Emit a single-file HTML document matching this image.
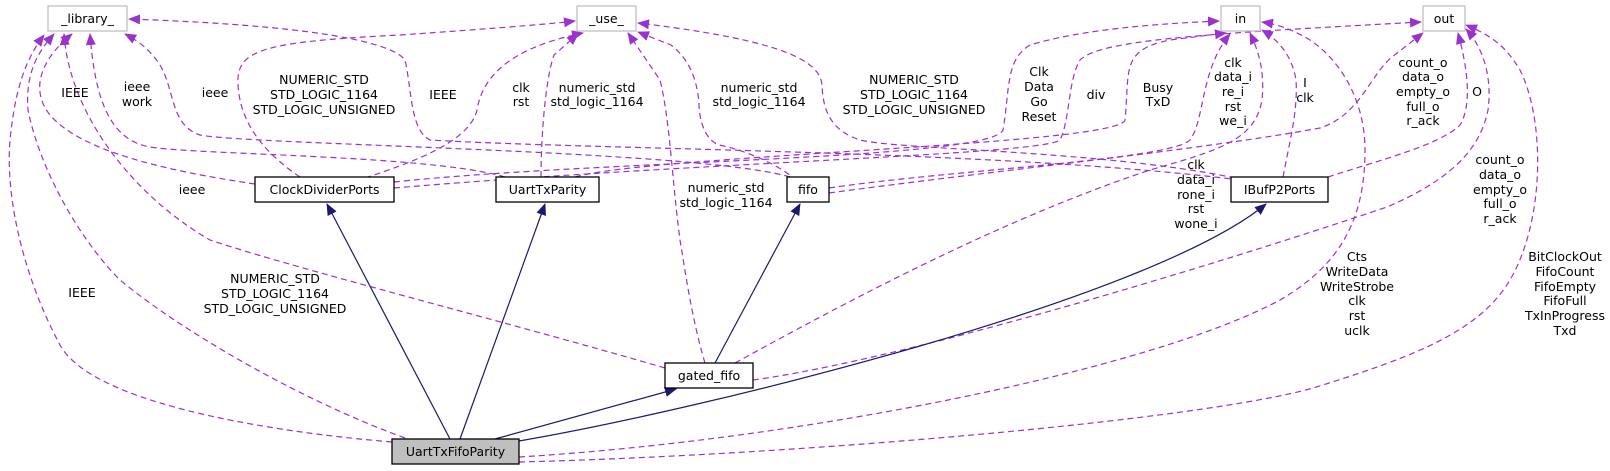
<!DOCTYPE html>
<html><head><meta charset="utf-8"><style>
html,body{margin:0;padding:0;background:#fff;}
svg{display:block;}
text{font-family:"DejaVu Sans","Liberation Sans",sans-serif;font-size:12.5px;fill:#000;text-anchor:middle;}
.p{fill:none;stroke:#9a32cd;stroke-width:1.2;stroke-dasharray:6,4;}
.n{fill:none;stroke:#191970;stroke-width:1.2;}
.g{fill:#fff;stroke:#bfbfbf;stroke-width:1.3;}
.b{fill:#fff;stroke:#000;stroke-width:1.3;}
</style></head><body>
<svg width="1610" height="471" viewBox="0 0 1610 471" xmlns="http://www.w3.org/2000/svg">
<defs>
<marker id="mp" markerWidth="12" markerHeight="10" refX="11" refY="5" orient="auto" markerUnits="userSpaceOnUse"><path d="M0,0 L12,5 L0,10 z" fill="#9a32cd"/></marker>
<marker id="mn" markerWidth="12" markerHeight="10" refX="11" refY="5" orient="auto" markerUnits="userSpaceOnUse"><path d="M0,0 L12,5 L0,10 z" fill="#191970"/></marker>
</defs>

<!-- purple dashed edges -->
<g marker-end="url(#mp)">
<path class="p" d="M392,442 C250,430 90,400 60,345 C25,280 5,200 10,140 C15,90 25,60 44,35"/>
<path class="p" d="M405,438 C300,400 180,330 120,280 C80,240 40,170 28,110 C25,70 40,50 54,34"/>
<path class="p" d="M665,368 C500,320 300,270 210,240 C140,200 70,120 64,34"/>
<path class="p" d="M255,184 C160,170 80,150 50,115 C30,90 40,60 72,34"/>
<path class="p" d="M505,177 C430,155 200,155 150,147 C110,140 95,100 90,34"/>
<path class="p" d="M790,177 C700,150 250,145 200,135 C170,125 175,90 160,65 C150,50 140,42 125,34"/>
<path class="p" d="M1240,180 C1000,150 600,150 430,140 C410,130 412,90 405,60 C390,40 300,25 129,19"/>

<path class="p" d="M300,177 C260,150 240,120 238,85 C236,50 260,42 400,35 C500,28 550,24 575,21"/>
<path class="p" d="M365,178 C420,160 470,140 477,110 C485,60 540,42 583,33"/>
<path class="p" d="M541,177 C541,140 545,80 554,55 L578,34"/>
<path class="p" d="M797,181 C780,165 745,150 719,145 C705,140 699,120 699,103 C697,80 690,60 671,45 L638,32"/>
<path class="p" d="M705,363 C692,320 685,270 680,240 C672,180 670,120 660,80 L628,33"/>
<path class="p" d="M1235,178 C1100,150 900,150 860,140 C830,130 823,110 822,85 C820,60 780,40 638,23"/>

<path class="p" d="M394,182 C600,160 990,160 1003,130 C1010,90 1005,60 1030,45 C1080,30 1150,24 1219,21"/>
<path class="p" d="M575,177 C650,155 1120,145 1125,120 C1130,70 1120,50 1170,40 L1226,33"/>
<path class="p" d="M394,188 C700,162 1040,155 1060,140 C1070,120 1068,80 1080,60 C1100,40 1200,34 1421,22"/>
<path class="p" d="M829,188 C950,170 1170,160 1190,140 C1205,120 1200,70 1230,34"/>
<path class="p" d="M735,363 C850,300 1000,220 1150,170 C1220,150 1255,140 1262,100 C1265,70 1258,50 1250,33"/>
<path class="p" d="M1283,177 C1290,140 1298,110 1296,80 C1292,55 1278,40 1262,30"/>
<path class="p" d="M519,457 C800,440 1150,370 1280,300 C1340,265 1365,220 1365,150 C1365,100 1340,60 1310,40 C1290,28 1275,24 1262,22"/>

<path class="p" d="M829,193 C1000,170 1200,150 1320,128 C1360,115 1370,75 1392,57 L1423,33"/>
<path class="p" d="M1328,177 C1380,160 1440,145 1460,125 C1472,105 1468,70 1458,33"/>
<path class="p" d="M753,380 C900,360 1200,270 1387,207 C1450,180 1480,150 1488,110 C1492,80 1485,50 1466,29"/>
<path class="p" d="M519,462 C800,455 1200,420 1313,388 C1420,355 1480,330 1510,280 C1545,220 1545,120 1520,70 C1505,45 1490,35 1466,25"/>
</g>

<!-- navy inheritance edges -->
<g marker-end="url(#mn)">
<line class="n" x1="450" y1="439" x2="327" y2="204"/>
<line class="n" x1="460" y1="439" x2="545" y2="204"/>
<line class="n" x1="495" y1="439" x2="676" y2="389"/>
<path class="n" d="M519,441 C700,410 1150,300 1266,204"/>
<line class="n" x1="715" y1="363" x2="800" y2="204"/>
</g>

<!-- nodes -->
<rect class="g" x="48" y="6" width="79" height="25"/><text x="87.5" y="23">_library_</text>
<rect class="g" x="577" y="6" width="59" height="25"/><text x="606.5" y="23">_use_</text>
<rect class="g" x="1221" y="6" width="39" height="25"/><text x="1240.5" y="23">in</text>
<rect class="g" x="1423" y="6" width="42" height="25"/><text x="1444" y="23">out</text>

<rect class="b" x="255" y="177" width="139" height="25"/><text x="324.5" y="194">ClockDividerPorts</text>
<rect class="b" x="496" y="177" width="103" height="25"/><text x="547.5" y="194">UartTxParity</text>
<rect class="b" x="787" y="177" width="42" height="25"/><text x="808" y="194">fifo</text>
<rect class="b" x="1231" y="177" width="97" height="25"/><text x="1279.5" y="194">IBufP2Ports</text>
<rect class="b" x="665" y="363" width="88" height="25"/><text x="709" y="380">gated_fifo</text>
<rect x="392" y="439" width="127" height="25" fill="#bfbfbf" stroke="#000" stroke-width="1.3"/><text x="455.5" y="456">UartTxFifoParity</text>

<!-- labels -->
<text x="75" y="97">IEEE</text>
<text x="137" y="91">ieee</text><text x="137" y="106">work</text>
<text x="215" y="97">ieee</text>
<text x="192" y="194">ieee</text>
<text x="324" y="84">NUMERIC_STD</text><text x="324" y="99">STD_LOGIC_1164</text><text x="324" y="114">STD_LOGIC_UNSIGNED</text>
<text x="443" y="99">IEEE</text>
<text x="521" y="92">clk</text><text x="521" y="106">rst</text>
<text x="597" y="92">numeric_std</text><text x="597" y="106">std_logic_1164</text>
<text x="759" y="92">numeric_std</text><text x="759" y="106">std_logic_1164</text>
<text x="914" y="84">NUMERIC_STD</text><text x="914" y="99">STD_LOGIC_1164</text><text x="914" y="114">STD_LOGIC_UNSIGNED</text>
<text x="1039" y="76">Clk</text><text x="1039" y="91">Data</text><text x="1039" y="106">Go</text><text x="1039" y="121">Reset</text>
<text x="726" y="192">numeric_std</text><text x="726" y="207">std_logic_1164</text>
<text x="1096" y="99">div</text>
<text x="1158" y="92">Busy</text><text x="1158" y="106">TxD</text>
<text x="1233" y="67">clk</text><text x="1233" y="81">data_i</text><text x="1233" y="96">re_i</text><text x="1233" y="111">rst</text><text x="1233" y="125">we_i</text>
<text x="1305" y="87">I</text><text x="1305" y="102">clk</text>
<text x="1423" y="67">count_o</text><text x="1423" y="81">data_o</text><text x="1423" y="96">empty_o</text><text x="1423" y="111">full_o</text><text x="1423" y="125">r_ack</text>
<text x="1477" y="96">O</text>
<text x="1196" y="169">clk</text><text x="1196" y="184">data_i</text><text x="1196" y="199">rone_i</text><text x="1196" y="213">rst</text><text x="1196" y="228">wone_i</text>
<text x="1500" y="164">count_o</text><text x="1500" y="179">data_o</text><text x="1500" y="194">empty_o</text><text x="1500" y="208">full_o</text><text x="1500" y="223">r_ack</text>
<text x="82" y="297">IEEE</text>
<text x="275" y="283">NUMERIC_STD</text><text x="275" y="298">STD_LOGIC_1164</text><text x="275" y="313">STD_LOGIC_UNSIGNED</text>
<text x="1357" y="261">Cts</text><text x="1357" y="276">WriteData</text><text x="1357" y="291">WriteStrobe</text><text x="1357" y="305">clk</text><text x="1357" y="320">rst</text><text x="1357" y="335">uclk</text>
<text x="1565" y="261">BitClockOut</text><text x="1565" y="276">FifoCount</text><text x="1565" y="291">FifoEmpty</text><text x="1565" y="305">FifoFull</text><text x="1565" y="320">TxInProgress</text><text x="1565" y="335">Txd</text>
</svg>
</body></html>
